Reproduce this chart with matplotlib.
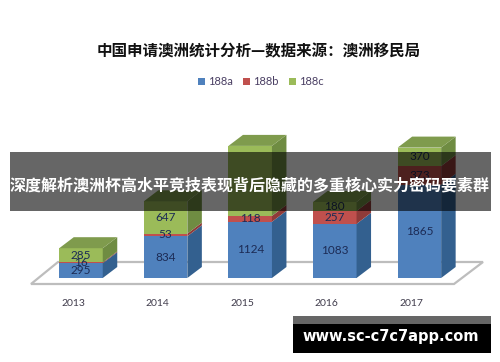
import matplotlib
matplotlib.use("Agg")
import matplotlib.pyplot as plt
from matplotlib.patches import Polygon, Rectangle

plt.rcParams['font.family'] = ['Noto Sans CJK SC', 'DejaVu Sans']

years = ['2013', '2014', '2015', '2016', '2017']
series_names = ['188a', '188b', '188c']
a_188 = [295, 834, 1124, 1083, 1865]
b_188 = [16, 53, 118, 257, 373]
c_188 = [285, 647, 1400, 180, 370]
c_labels = ['285', '647', '', '180', '370']  # the 2015 label is not visible in the source
title = '中国申请澳洲统计分析—数据来源：澳洲移民局'
banner = '深度解析澳洲杯高水平竞技表现背后隐藏的多重核心实力密码要素群'
site = 'www.sc-c7c7app.com'

front = ['#4F81BD', '#C0504D', '#9BBB59']
side = ['#33608F', '#8F3B39', '#6F8C42']
top = ['#5E86B5', '#A8504E', '#7F9B4D']
W, H = 500, 362
PX_U = 0.05      # px per value unit
SP = 84.6        # px per category
DX, DY = 14.5 / SP, 11 / PX_U
BW = 43.5 / SP

fig = plt.figure(figsize=(5, 3.62), dpi=100, facecolor='white')
ax = fig.add_axes([38.7 / W, (H - 278) / H, 423 / W, 150 / H])
ax.set_xlim(-0.5, 4.5)
ax.set_ylim(0, 3000)
ax.axis('off')

# floor of the pseudo-3D plot
px = lambda x: (x - 38.7) / SP - 0.5
py = lambda y: (278 - y) / PX_U
floor = [(px(31), py(284)), (px(454), py(284)), (px(483), py(262)), (px(58), py(262))]
ax.add_patch(Polygon(floor, closed=True, fc='white', ec='#BDBDBD', lw=1.6, clip_on=False, zorder=1))

for i, year in enumerate(years):
    base = 0
    segs = [a_188[i], b_188[i], c_188[i]]
    labels = [str(a_188[i]), str(b_188[i]), c_labels[i]]
    for s, v in enumerate(segs):
        x0, x1 = i - BW / 2, i + BW / 2
        ax.bar(i, v, BW, bottom=base, color=front[s], zorder=3, clip_on=False)
        ax.add_patch(Polygon([(x1, base), (x1 + DX, base + DY), (x1 + DX, base + v + DY), (x1, base + v)],
                             closed=True, fc=side[s], ec='none', zorder=3, clip_on=False))
        base += v
    ax.add_patch(Polygon([(x0, base), (x1, base), (x1 + DX, base + DY), (x0 + DX, base + DY)],
                         closed=True, fc=top[2], ec='none', zorder=3, clip_on=False))
    base = 0
    for v, lab in zip(segs, labels):
        if lab:
            ax.text(i, base + v / 2, lab, ha='center', va='center', fontsize=8.5,
                    family=['Lato', 'DejaVu Sans'], color='#1C2B55', zorder=4, clip_on=False)
        base += v
    ax.text(i - 8 / SP, py(304), year, ha='center', va='center', fontsize=7.5,
            family=['Lato', 'DejaVu Sans'], color='#403C4C', zorder=4, clip_on=False)

# figure-level overlay in pixel fractions
fx = lambda x: x / W
fy = lambda y: 1 - y / H
fig.text(fx(258.5), fy(51), title, ha='center', va='center', fontsize=11.2, fontweight='bold', color='#111111')

leg_x = [198, 243, 289]
for name, c, x in zip(series_names, front, leg_x):
    fig.add_artist(Rectangle((fx(x), fy(85)), 7 / W, 7 / H, transform=fig.transFigure, fc=c, ec='none'))
    fig.text(fx(x + 10), fy(81.5), name, ha='left', va='center', fontsize=8,
             family=['Lato', 'DejaVu Sans'], color='#4A3F63')

fig.add_artist(Rectangle((fx(10), fy(211)), 481 / W, 59 / H, transform=fig.transFigure, fc='black', alpha=0.6, ec='none', zorder=10))
fig.text(fx(250), fy(186), banner, ha='center', va='center', fontsize=11.5, fontweight='bold', color='white', zorder=11)

fig.add_artist(Rectangle((fx(293), fy(353)), 198 / W, 37 / H, transform=fig.transFigure, fc='black', ec='none', zorder=10))
fig.add_artist(Rectangle((fx(293), fy(324)), 198 / W, 8 / H, transform=fig.transFigure, fc='#666666', ec='none', zorder=11))
fig.text(fx(391), fy(337), site, ha='center', va='center', fontsize=10.5, fontweight='bold',
         family=['DejaVu Sans'], color='white', zorder=12)

fig.savefig('out.png', dpi=100, facecolor='white')
